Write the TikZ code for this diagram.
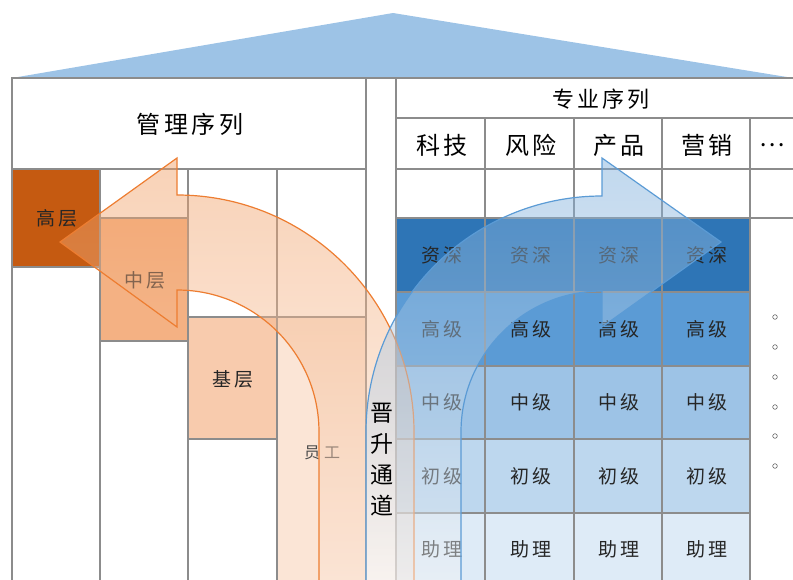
\documentclass[tikz,border=0pt]{standalone}
\usepackage{fontspec}
\setmainfont{Noto Sans CJK SC}[LetterSpace=15]
\usetikzlibrary{positioning}

\definecolor{roofblue}{HTML}{9DC3E6}
\definecolor{gridgray}{HTML}{8C8C8C}
\definecolor{gaoceng}{HTML}{C55A11}
\definecolor{zhongceng}{HTML}{F4B183}
\definecolor{jiceng}{HTML}{F8CBAD}
\definecolor{yuangong}{HTML}{FBE5D6}
\definecolor{zishen}{HTML}{2E75B6}
\definecolor{gaoji}{HTML}{5B9BD5}
\definecolor{zhongji}{HTML}{9DC3E6}
\definecolor{chuji}{HTML}{BDD7EE}
\definecolor{zhuli}{HTML}{DEEBF7}
\definecolor{orangeline}{HTML}{ED7D31}
\definecolor{orangetop}{HTML}{F09B5F}
\definecolor{blueline}{HTML}{5B9BD5}
\definecolor{bluetop}{HTML}{75A9D9}

\begin{document}
\begin{tikzpicture}[x=1pt,y=-1pt,
  grid/.style={draw=gridgray,line width=1.3pt},
  head/.style={font=\fontsize{24}{24}\selectfont,text=black},
  cell/.style={font=\fontsize{19}{19}\selectfont,text=black!85},
  ]
\useasboundingbox (0,0) rectangle (793,579);
\clip (0,0) rectangle (793,579);

% roof
\fill[roofblue] (12,78) -- (393,13) -- (793,78) -- cycle;

% management ladder boxes
\fill[gaoceng] (12,169) rectangle (100,267);
\fill[zhongceng] (100,218) rectangle (188,341);
\fill[jiceng] (188,317) rectangle (277,439);
\fill[yuangong] (277,317) rectangle (366,590);

% professional ladder rows
\foreach \y/\c in {218/zishen,292/gaoji,366/zhongji,439/chuji,513/zhuli}
  \fill[\c] (396,\y) rectangle (750,\y+74);

% grid
\path[grid]
    (12,590) -- (12,78) -- (793,78)
    (12,169) -- (366,169)
    (366,78) -- (366,590)
    (396,78) -- (396,590)
    (396,118) -- (793,118)
    (396,169) -- (793,169)
    (396,218) -- (793,218)
    (12,267) -- (100,267)
    (100,218) -- (188,218)
    (100,341) -- (188,341)
    (188,317) -- (366,317)
    (188,439) -- (277,439)
;
\foreach \x in {100,188,277}
  \draw[grid] (\x,169) -- (\x,590);
\foreach \x in {485,574,662,750}
  \draw[grid] (\x,118) -- (\x,590);
\foreach \y in {292,366,439,513}
  \draw[grid] (396,\y) -- (750,\y);

% titles
\node[head] (mgmt) at (190,124) {管理序列};
\node[head,font=\fontsize{22}{22}\selectfont] (prof) at (601,99) {专业序列};
\foreach \x/\t [count=\i] in {442/科技,531/风险,619/产品,707/营销,772/…}
  \node[head] (col\i) at (\x,145) {\t};

% levels
\foreach \y/\t [count=\j] in {255/资深,329/高级,402/中级,476/初级,549/助理}
  \foreach \x [count=\i] in {442,531,619,707}
    \node[cell] (lv\j-\i) at (\x,\y) {\t};

\node[cell] (gao) at (57,218) {高层};
\node[cell] (zhong) at (145,280) {中层};
\node[cell] (ji) at (233,379) {基层};
\node[cell,font=\fontsize{16}{16}\selectfont,text=black!70] (yuan) at (322,453) {员\hspace{4pt}工};

% more
\foreach \y in {317,347,377,407,436,466}
  \draw[black!60,line width=0.6pt] (775,\y) circle (2.3);

% orange arrow: up and to the left
\path[draw=orangeline,line width=1.2pt,top color=orangetop,bottom color=yuangong,fill opacity=0.45]
    (414,590) -- (414,432) arc[start angle=0,end angle=-90,radius=237]
    -- (177,158) -- (60,242) -- (177,327) -- (177,290)
    arc[start angle=-90,end angle=0,radius=142] -- (319,590) -- cycle;

% blue arrow: up and to the right
\path[draw=blueline,line width=1.2pt,top color=bluetop,bottom color=white!92!gray,fill opacity=0.45]
    (366,590) -- (366,432) arc[start angle=180,end angle=270,radius=236]
    -- (602,158) -- (721,242) -- (602,327) -- (602,291)
    arc[start angle=270,end angle=180,radius=141] -- (461,590) -- cycle;

\node[align=center,font=\fontsize{23}{31}\selectfont] (channel) at (382,460) {晋\\升\\通\\道};

\end{tikzpicture}
\end{document}
